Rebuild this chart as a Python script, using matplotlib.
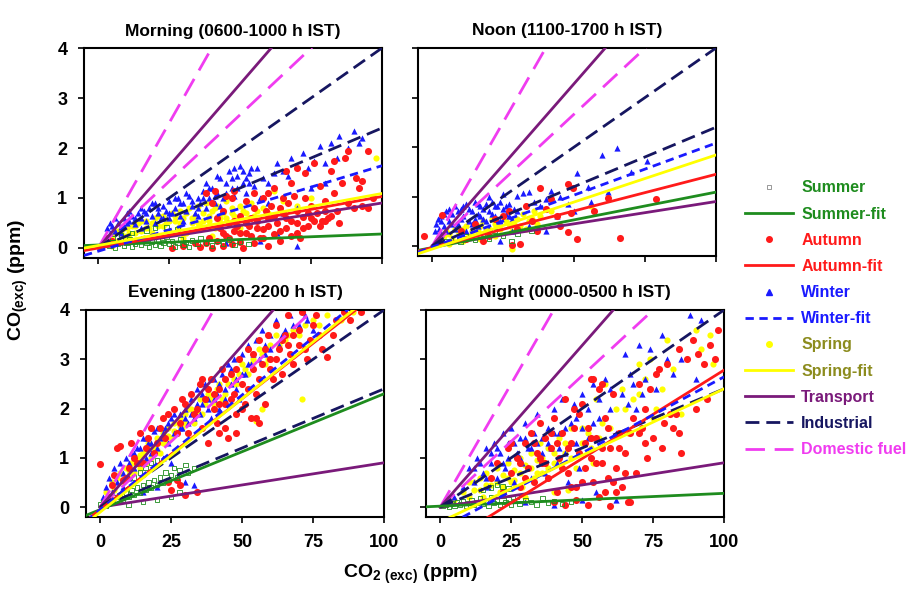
import numpy as np
import matplotlib.pyplot as plt
from matplotlib.lines import Line2D

plt.rcParams['font.family'] = ['Liberation Sans', 'DejaVu Sans']
plt.rcParams['font.weight'] = 'bold'
plt.rcParams['mathtext.fontset'] = 'custom'
plt.rcParams['mathtext.rm'] = 'Liberation Sans:bold'
plt.rcParams['mathtext.bf'] = 'Liberation Sans:bold'

titles = ['Morning (0600-1000 h IST)', 'Noon (1100-1700 h IST)',
          'Evening (1800-2200 h IST)', 'Night (0000-0500 h IST)']
x_ticks = [0, 25, 50, 75, 100]
y_ticks = [0, 1, 2, 3, 4]

# reference emission ratio lines (slopes, through origin)
transport_slopes = [0.0656, 0.009]
industrial_slopes = [0.04, 0.024]
domestic_slopes = [0.1, 0.0533]

# season fits per panel: (slope, intercept) for Summer, Autumn, Winter, Spring
morning_fits = [(0.0022, 0.06), (0.0103, 0.0), (0.0171, -0.064), (0.0104, 0.05)]
noon_fits = [(0.0112, -0.03), (0.0148, -0.03), (0.021, -0.02), (0.019, -0.06)]
evening_fits = [(0.0235, -0.05), (0.045, -0.05), (0.0465, -0.05), (0.046, -0.1)]
night_fits = [(0.0026, 0.02), (0.0359, -0.81), (0.0309, -0.447), (0.027, -0.3)]

# scatter points (CO2 exc, CO exc)
morning_summer = [(1, 0.02), (2, 0.06), (3, 0.1), (4, 0.04), (5, 0.12), (6, 0.0), (7, 0.08), (8, 0.15),
                  (9, 0.05), (10, 0.1), (11, 0.18), (12, 0.03), (13, 0.09), (14, 0.14), (15, 0.06),
                  (16, 0.2), (17, 0.1), (18, 0.02), (19, 0.13), (20, 0.07), (21, 0.17), (22, 0.04),
                  (23, 0.11), (24, 0.22), (25, 0.08), (26, 0.14), (27, 0.03), (28, 0.1), (29, 0.18),
                  (30, 0.06), (31, 0.12), (32, 0.02), (33, 0.15), (35, 0.08), (36, 0.2), (38, 0.1),
                  (40, 0.05), (42, 0.14), (44, 0.09), (46, 0.17), (48, 0.06), (50, 0.12), (53, 0.08),
                  (20, 0.4), (24, 0.42), (28, 0.38), (17, 0.35), (12, 0.3), (8, 0.25), (5, 0.2)]
morning_autumn = [(36, 0.02), (38, 0.1), (40, 0.0), (42, 0.15), (44, 0.05), (45, 0.25), (47, 0.08),
                  (48, 0.35), (50, 0.12), (51, 0.0), (52, 0.3), (53, 0.45), (55, 0.1), (56, 0.55),
                  (57, 0.2), (58, 0.38), (60, 0.05), (60, 0.6), (62, 0.28), (63, 0.5), (64, 0.15),
                  (65, 0.7), (66, 0.4), (67, 0.9), (68, 0.55), (70, 0.3), (70, 0.75), (72, 0.62),
                  (73, 1.0), (74, 0.45), (75, 0.85), (77, 0.7), (78, 1.25), (79, 0.55), (80, 0.95),
                  (81, 0.6), (83, 1.1), (84, 0.75), (85, 0.5), (86, 1.3), (88, 0.9), (90, 0.8),
                  (92, 1.2), (93, 0.85), (95, 0.8), (97, 1.0), (88, 1.95), (95, 1.95), (83, 1.75),
                  (76, 1.7), (82, 1.55), (73, 1.5), (68, 1.3), (62, 1.2), (58, 1.0), (55, 0.8),
                  (50, 0.65), (46, 0.5), (43, 0.4), (40, 0.9), (38, 1.1), (41, 1.15), (47, 1.0),
                  (52, 0.95), (61, 0.85), (69, 1.05), (71, 0.2), (75, 0.6), (80, 0.55), (64, 0.8),
                  (59, 0.75), (54, 0.6), (49, 0.45), (44, 0.3), (39, 0.2), (34, 0.1), (30, 0.05),
                  (26, 0.0), (60, 1.1), (66, 1.55), (70, 1.6), (87, 1.8), (91, 1.4), (93, 1.35),
                  (2, 0.12), (3, 0.2), (5, 0.15), (42, 0.6), (44, 0.75), (46, 0.2), (48, 0.55),
                  (50, 0.3), (52, 0.5), (54, 0.25), (56, 0.4), (58, 0.2), (60, 0.45), (62, 0.65),
                  (64, 0.35), (66, 0.6), (68, 0.25), (70, 0.5), (72, 0.4), (74, 0.7), (76, 0.55),
                  (78, 0.45), (80, 0.75), (82, 0.65), (45, 1.05), (48, 1.15), (55, 1.1), (65, 1.0)]
morning_winter = [(3, 0.4), (4, 0.3), (5, 0.45), (6, 0.35), (7, 0.5), (8, 0.42), (9, 0.6), (10, 0.5),
                  (11, 0.55), (12, 0.65), (13, 0.48), (14, 0.7), (15, 0.6), (16, 0.75), (17, 0.55),
                  (18, 0.8), (19, 0.65), (20, 0.9), (21, 0.7), (22, 0.6), (23, 0.85), (24, 0.75),
                  (25, 0.95), (26, 0.7), (27, 0.8), (28, 1.0), (29, 0.65), (30, 0.9), (31, 0.75),
                  (32, 1.05), (33, 0.85), (34, 0.7), (35, 1.0), (36, 0.9), (37, 1.15), (38, 0.8),
                  (39, 1.0), (40, 1.2), (41, 0.9), (42, 1.1), (43, 1.4), (44, 1.0), (45, 1.3),
                  (46, 1.55), (47, 1.2), (48, 1.05), (49, 1.45), (50, 1.65), (51, 1.3), (52, 1.1),
                  (53, 1.5), (55, 1.25), (56, 1.6), (57, 1.0), (58, 1.4), (60, 1.3), (62, 1.5),
                  (63, 1.7), (65, 1.55), (67, 1.45), (68, 1.8), (70, 1.65), (72, 1.9), (74, 1.6),
                  (76, 1.75), (78, 2.05), (80, 1.7), (82, 2.1), (84, 1.8), (85, 2.25), (88, 2.0),
                  (90, 2.35), (92, 2.1), (93, 2.2), (60, 0.9), (65, 0.7), (70, 0.8), (75, 1.2),
                  (80, 1.3), (57, 0.15), (70, 0.05), (63, 0.3), (45, 0.1), (15, 0.4), (20, 0.5),
                  (25, 0.6), (30, 0.55), (35, 0.65), (10, 0.7), (8, 0.3), (4, 0.5), (6, 0.6),
                  (9, 0.45), (11, 0.75), (13, 0.6), (15, 0.8), (17, 0.7), (19, 0.9), (21, 0.8),
                  (23, 0.6), (25, 0.7), (27, 1.0), (29, 0.9), (31, 1.1), (33, 0.95), (35, 0.8),
                  (37, 1.0), (39, 1.2), (41, 1.05), (43, 0.85), (45, 1.1), (47, 1.4), (49, 1.2),
                  (51, 1.55), (53, 1.3), (54, 1.6), (38, 1.3), (42, 1.45), (48, 1.6), (52, 1.4)]
morning_spring = [(2, 0.1), (4, 0.2), (5, 0.05), (6, 0.3), (7, 0.15), (8, 0.35), (9, 0.25), (10, 0.4),
                  (11, 0.2), (12, 0.45), (13, 0.3), (14, 0.5), (15, 0.35), (16, 0.2), (17, 0.55),
                  (18, 0.4), (19, 0.3), (20, 0.6), (21, 0.45), (22, 0.25), (23, 0.65), (24, 0.5),
                  (25, 0.35), (26, 0.7), (27, 0.55), (28, 0.4), (29, 0.75), (30, 0.6), (31, 0.3),
                  (32, 0.8), (33, 0.5), (34, 0.65), (35, 0.85), (36, 0.45), (37, 0.7), (38, 0.9),
                  (39, 0.55), (40, 0.75), (41, 0.4), (42, 0.85), (43, 0.6), (44, 0.7), (45, 0.95),
                  (46, 0.5), (47, 0.8), (48, 0.65), (50, 0.85), (52, 0.7), (54, 0.9), (56, 0.75),
                  (58, 0.8), (60, 0.7), (98, 1.8), (65, 0.95), (70, 0.85), (75, 1.0), (62, 1.15),
                  (30, 0.2), (40, 0.25), (50, 0.4), (5, 0.25), (7, 0.35), (9, 0.4), (11, 0.3),
                  (13, 0.45), (15, 0.55), (17, 0.4), (19, 0.5), (21, 0.65), (23, 0.45), (25, 0.55),
                  (27, 0.65), (29, 0.5), (31, 0.7), (33, 0.6), (35, 0.5), (37, 0.55), (39, 0.65),
                  (41, 0.8), (43, 0.5), (45, 0.6), (47, 0.7), (49, 0.55), (51, 0.75), (53, 0.6),
                  (55, 0.65)]

noon_summer = [(2, 0.05), (5, 0.1), (8, 0.15), (10, 0.08), (12, 0.2), (15, 0.12), (18, 0.25),
               (20, 0.15), (22, 0.3), (25, 0.2), (28, 0.1), (30, 0.25), (35, 0.3)]
noon_autumn = [(-3, 0.2), (49.6, 1.17), (48, 1.25), (62, 0.98), (79, 0.95), (57, 0.71), (49, 0.67),
               (48, 0.29), (51, 0.14), (66, 0.16), (3.5, 0.62), (38, 1.17), (28, 0.02), (10, 0.3),
               (15, 0.45), (20, 0.2), (25, 0.6), (30, 0.35), (35, 0.5), (40, 0.75), (45, 0.4),
               (22, 0.55), (18, 0.1), (33, 0.8), (42, 0.95), (12, 0.15), (27, 0.7), (37, 0.3),
               (44, 0.6), (31, 0.05)]
noon_winter = [(1, 0.3), (1.5, 0.45), (2, 0.55), (2.5, 0.35), (3, 0.6), (4, 0.4), (5, 0.7), (6, 0.5),
               (7, 0.65), (8, 0.8), (9, 0.45), (10, 0.75), (11, 0.6), (12, 0.85), (13, 0.5), (14, 0.7),
               (15, 0.9), (16, 0.65), (17, 0.8), (18, 0.55), (19, 0.85), (20, 0.7), (21, 0.9),
               (22, 0.6), (23, 0.8), (24, 0.5), (25, 0.75), (26, 0.65), (27, 0.85), (28, 0.55),
               (30, 0.7), (32, 1.07), (34, 1.1), (36, 0.9), (38, 0.8), (40, 0.95), (42, 1.11),
               (45, 1.0), (48, 0.85), (51, 1.47), (55, 1.2), (60, 1.83), (65, 1.98), (75.6, 1.71),
               (70, 1.5), (3, 0.25), (5, 0.3), (8, 0.35), (12, 0.3), (16, 0.4), (20, 0.35),
               (24, 0.1), (28, 0.3), (34, 0.4), (40, 0.3), (44, 0.6), (50, 0.7), (56, 0.9),
               (62, 1.1), (20, 1.0), (25, 1.05), (30, 1.02), (15, 0.55), (3, 0.5), (4, 0.65),
               (6, 0.75), (7, 0.45), (9, 0.7), (10, 0.55), (11, 0.8), (13, 0.75), (14, 0.45),
               (16, 0.85), (17, 0.6), (18, 0.75), (19, 0.5), (21, 0.65), (22, 0.8), (23, 0.55),
               (24, 0.9), (26, 0.8), (27, 0.6), (29, 0.75)]
noon_spring = [(2, 0.1), (4, 0.2), (5, 0.3), (7, 0.15), (8, 0.35), (10, 0.25), (12, 0.4), (13, 0.2),
               (15, 0.45), (16, 0.3), (18, 0.5), (20, 0.35), (21, 0.55), (23, 0.4), (25, 0.6),
               (27, 0.45), (28, 0.3), (30, 0.55), (32, 0.65), (34, 0.5), (36, 0.7), (38, 0.6),
               (40, 0.75), (42, 0.7), (56, 0.8), (28, -0.05), (6, 0.05), (11, 0.1), (17, 0.15),
               (22, 0.2), (33, 0.35), (3, 0.15), (6, 0.25), (9, 0.3), (11, 0.35), (14, 0.3),
               (17, 0.4), (19, 0.3), (22, 0.45), (24, 0.35), (26, 0.5), (29, 0.45), (31, 0.4),
               (35, 0.55), (37, 0.45)]

evening_summer = [(0, 0.05), (1, 0.1), (2, 0.02), (3, 0.15), (4, 0.08), (5, 0.2), (6, 0.12), (7, 0.25),
                  (8, 0.15), (9, 0.3), (10, 0.2), (11, 0.35), (12, 0.25), (13, 0.4), (14, 0.3),
                  (15, 0.45), (16, 0.35), (17, 0.5), (18, 0.4), (19, 0.55), (20, 0.45), (21, 0.6),
                  (22, 0.5), (23, 0.7), (24, 0.55), (25, 0.65), (26, 0.8), (27, 0.6), (28, 0.75),
                  (30, 0.85), (31, 0.7), (33, 0.8), (12, 0.6), (14, 0.7), (16, 0.8), (18, 0.9),
                  (20, 0.95), (10, 0.05), (15, 0.1), (20, 0.15), (25, 0.2), (28, 0.3)]
evening_autumn = [(0, 0.88), (5, 0.65), (6, 1.2), (7, 1.25), (11, 1.3), (4, 0.45), (8, 0.55), (3, 0.2),
                  (10, 0.8), (12, 1.0), (14, 1.5), (15, 0.9), (16, 1.2), (18, 1.6), (20, 1.3),
                  (22, 1.8), (23, 1.4), (24, 0.5), (25, 0.35), (27, 0.55), (28, 0.45), (26, 2.0),
                  (28, 1.7), (30, 2.1), (31, 1.5), (32, 2.3), (33, 1.9), (35, 2.5), (36, 1.6),
                  (37, 2.2), (38, 1.3), (39, 2.6), (40, 2.0), (41, 1.7), (42, 2.4), (43, 2.8),
                  (44, 2.1), (45, 1.4), (46, 2.7), (47, 2.3), (48, 1.9), (49, 3.0), (50, 2.5),
                  (51, 2.1), (52, 3.2), (53, 1.8), (54, 2.8), (55, 2.3), (56, 3.4), (57, 2.9),
                  (58, 2.1), (59, 3.5), (60, 3.0), (61, 2.6), (62, 3.7), (63, 3.2), (64, 2.7),
                  (65, 3.5), (66, 3.9), (67, 3.1), (68, 2.9), (70, 3.6), (71, 3.95), (72, 3.2),
                  (73, 3.0), (75, 3.7), (77, 3.5), (78, 3.2), (80, 3.05), (83, 3.8), (86, 3.95),
                  (92, 3.95), (34, 0.3), (30, 0.25), (9, 0.6), (13, 0.9), (17, 1.4), (19, 1.1),
                  (21, 1.6), (24, 1.9), (27, 1.5), (29, 2.2), (34, 2.0), (36, 2.6), (38, 2.4),
                  (40, 2.3), (42, 2.1), (44, 2.6), (46, 2.2), (48, 2.8), (50, 2.0), (52, 2.4),
                  (54, 3.1), (56, 2.6), (58, 3.2), (60, 2.8), (62, 3.0), (64, 3.4), (66, 3.3),
                  (68, 3.5), (70, 3.3), (74, 3.4), (76, 3.9), (82, 3.5), (88, 3.8), (42, 1.5),
                  (44, 1.6), (48, 1.5), (55, 1.8), (56, 1.7)]
evening_winter = [(1, 0.2), (2, 0.4), (3, 0.6), (4, 0.3), (5, 0.8), (6, 0.5), (7, 0.9), (8, 0.7),
                  (9, 1.0), (10, 0.6), (11, 1.1), (12, 0.8), (13, 1.2), (14, 0.9), (15, 1.4), (16, 1.0),
                  (17, 1.3), (18, 1.1), (19, 1.55), (20, 1.2), (21, 1.4), (22, 1.0), (23, 1.6),
                  (24, 1.3), (25, 1.8), (26, 1.5), (27, 1.2), (28, 1.9), (29, 1.6), (30, 2.0),
                  (31, 1.7), (32, 2.2), (33, 1.8), (34, 2.4), (35, 1.9), (36, 2.1), (37, 2.5),
                  (38, 2.2), (39, 1.8), (40, 2.6), (41, 2.3), (42, 2.0), (43, 2.7), (44, 2.4),
                  (45, 2.9), (46, 2.5), (47, 3.0), (48, 2.6), (49, 2.2), (50, 3.1), (51, 2.7),
                  (52, 3.3), (53, 2.9), (55, 3.4), (57, 3.6), (58, 3.1), (60, 3.5), (62, 3.8),
                  (63, 3.3), (65, 3.6), (67, 3.9), (70, 3.7), (72, 3.9), (75, 3.6), (27, 0.6),
                  (30, 0.5), (33, 0.45), (20, 0.4), (15, 0.3), (25, 0.9), (8, 0.4), (10, 0.9),
                  (12, 1.1), (14, 1.2), (16, 1.4), (18, 1.3), (20, 1.6), (22, 1.5), (24, 1.7),
                  (26, 1.9), (28, 1.6), (30, 1.8), (32, 1.9), (34, 2.1), (36, 2.3), (38, 2.0),
                  (40, 2.2), (42, 2.5), (44, 2.2), (46, 2.8), (48, 2.4), (50, 2.7), (52, 2.9),
                  (54, 3.1), (56, 3.0), (58, 3.3), (60, 3.2), (64, 3.5), (68, 3.7), (73, 3.8)]
evening_spring = [(1, 0.05), (2, 0.3), (3, 0.2), (4, 0.5), (5, 0.35), (6, 0.6), (8, 0.5), (9, 0.8),
                  (10, 0.65), (11, 0.9), (12, 0.7), (13, 1.0), (14, 0.8), (15, 1.1), (16, 0.9),
                  (17, 1.3), (18, 1.0), (19, 1.2), (20, 1.4), (21, 1.1), (22, 1.5), (23, 1.3),
                  (24, 1.6), (25, 1.4), (26, 1.7), (27, 1.5), (28, 1.8), (29, 1.6), (30, 1.9),
                  (32, 2.0), (33, 1.7), (35, 2.2), (36, 1.9), (38, 2.3), (40, 2.1), (42, 2.5),
                  (44, 2.3), (46, 2.7), (48, 2.5), (50, 2.9), (52, 2.7), (54, 3.0), (56, 3.2),
                  (58, 2.9), (60, 3.3), (62, 3.5), (65, 3.4), (68, 3.6), (71, 2.2), (55, 1.75),
                  (57, 2.0), (80, 3.9), (85, 3.8), (89, 3.95), (72, 3.7), (75, 3.8), (7, 0.7),
                  (10, 0.75), (12, 0.9), (14, 1.05), (16, 1.15), (18, 1.25), (20, 1.15), (22, 1.3),
                  (24, 1.45), (26, 1.55), (28, 1.65), (30, 1.7), (31, 2.0), (34, 1.9), (37, 2.1),
                  (39, 2.2), (41, 2.4), (43, 2.2), (45, 2.5), (47, 2.6), (49, 2.7), (51, 2.8),
                  (53, 2.9), (57, 3.1), (59, 3.0), (63, 3.3), (66, 3.5), (70, 3.5), (77, 3.7)]

night_summer = [(1, 0.02), (2, 0.05), (3, 0.0), (4, 0.08), (5, 0.03), (6, 0.1), (7, 0.05), (8, 0.12),
                (9, 0.02), (10, 0.08), (11, 0.15), (12, 0.04), (13, 0.1), (14, 0.18), (15, 0.06),
                (16, 0.12), (17, 0.03), (18, 0.2), (19, 0.08), (20, 0.14), (21, 0.05), (22, 0.22),
                (23, 0.1), (24, 0.16), (25, 0.04), (26, 0.12), (27, 0.2), (28, 0.07), (30, 0.15),
                (32, 0.1), (34, 0.05), (36, 0.18), (38, 0.08), (40, 0.12), (43, 0.06), (46, 0.1),
                (18, 0.4), (20, 0.45), (22, 0.42), (24, 0.38), (15, 0.35)]
night_autumn = [(18, 0.6), (20, 0.9), (22, 0.3), (24, 1.2), (25, 0.7), (27, 1.0), (28, 0.4), (30, 1.3),
                (31, 0.8), (32, 1.5), (33, 0.5), (34, 1.1), (35, 1.7), (36, 0.9), (37, 1.4), (38, 0.6),
                (39, 1.2), (40, 1.8), (41, 0.3), (42, 1.0), (43, 1.5), (44, 2.2), (45, 0.7), (46, 1.3),
                (47, 2.0), (48, 0.4), (49, 1.1), (50, 2.1), (51, 0.8), (52, 1.6), (53, 1.0), (54, 0.5),
                (55, 1.4), (56, 2.4), (57, 0.9), (58, 1.8), (59, 0.6), (60, 1.2), (61, 2.3), (62, 0.8),
                (63, 1.5), (64, 0.4), (65, 1.1), (66, 0.1), (67, 0.1), (68, 1.8), (69, 0.7), (70, 2.5),
                (71, 1.6), (72, 2.0), (73, 1.0), (74, 2.4), (75, 1.4), (76, 2.7), (77, 2.8), (78, 1.2),
                (80, 2.9), (82, 1.6), (83, 1.9), (84, 3.2), (85, 1.1), (87, 3.0), (89, 3.4), (90, 2.0),
                (91, 3.1), (93, 2.9), (94, 2.2), (95, 3.3), (97, 3.0), (98, 3.6), (48, 0.15),
                (52, 0.05), (56, 0.2), (60, 0.02), (44, 0.05), (40, 0.1), (53, 2.6), (54, 2.6),
                (57, 2.5), (25, 1.3), (28, 0.9), (30, 0.6), (33, 1.3), (35, 1.0), (37, 0.9),
                (39, 1.5), (41, 1.3), (43, 0.8), (45, 1.2), (47, 1.6), (49, 1.9), (51, 1.3),
                (53, 1.4), (55, 0.9), (57, 1.2), (59, 1.6), (61, 0.5), (63, 1.2), (65, 0.7),
                (67, 1.5), (70, 1.5), (72, 1.3), (79, 1.7), (81, 1.9), (84, 1.5), (58, 0.3),
                (62, 0.3), (46, 0.4), (50, 0.5)]
night_winter = [(5, 0.2), (8, 0.4), (10, 0.8), (12, 0.5), (13, 1.0), (15, 0.7), (16, 1.2), (17, 0.4),
                (18, 0.9), (19, 1.3), (20, 0.6), (21, 1.1), (22, 1.5), (23, 0.8), (24, 1.3), (25, 1.6),
                (26, 0.5), (27, 1.1), (28, 1.4), (29, 0.9), (30, 1.7), (31, 1.2), (32, 0.6), (33, 1.5),
                (34, 1.9), (35, 1.0), (36, 1.4), (37, 0.7), (38, 1.6), (39, 1.2), (40, 2.0), (41, 0.9),
                (42, 1.5), (43, 2.2), (44, 1.1), (45, 0.5), (46, 1.7), (47, 2.1), (48, 1.3), (49, 0.8),
                (50, 2.3), (52, 1.4), (54, 2.5), (56, 1.8), (58, 2.6), (60, 2.0), (62, 1.5), (64, 2.3),
                (65, 3.1), (67, 2.7), (69, 2.0), (70, 3.3), (72, 2.6), (74, 3.2), (76, 2.4), (78, 3.5),
                (80, 3.0), (82, 2.7), (85, 3.0), (88, 3.9), (90, 2.6), (92, 3.8), (30, 0.1), (40, 0.05),
                (50, 0.15), (62, 0.15), (55, 0.3), (12, 0.8), (14, 0.9), (16, 0.6), (18, 1.1),
                (20, 1.2), (22, 0.9), (24, 1.0), (26, 1.3), (28, 1.0), (30, 1.4), (32, 1.2),
                (34, 1.3), (36, 1.1), (38, 1.3), (40, 1.5), (42, 1.2), (44, 1.6), (46, 1.3),
                (48, 1.8), (50, 1.6), (52, 2.0), (54, 1.7), (56, 2.2), (60, 2.4), (66, 2.1),
                (68, 2.5), (71, 2.3)]
night_spring = [(5, 0.15), (8, 0.3), (10, 0.5), (12, 0.35), (14, 0.6), (15, 0.2), (16, 0.7), (18, 0.45),
                (20, 0.8), (21, 0.3), (22, 0.65), (24, 0.9), (25, 0.5), (26, 0.75), (28, 1.0), (29, 0.4),
                (30, 0.85), (32, 1.1), (33, 0.6), (34, 0.95), (35, 1.3), (36, 0.7), (38, 1.2), (40, 0.9),
                (42, 1.4), (44, 1.1), (46, 1.6), (48, 0.8), (50, 1.3), (52, 1.5), (54, 0.9), (55, 2.2),
                (57, 1.7), (58, 2.5), (60, 1.2), (62, 2.0), (64, 2.4), (66, 1.5), (68, 2.2), (70, 2.9),
                (72, 2.6), (74, 3.0), (75, 1.8), (76, 2.0), (78, 2.4), (80, 3.4), (82, 2.8), (85, 1.9),
                (87, 3.0), (90, 3.6), (92, 3.2), (95, 3.5), (96, 2.9), (30, 0.2), (40, 0.3), (45, 0.35),
                (10, 0.2), (12, 0.5), (14, 0.35), (16, 0.45), (18, 0.6), (20, 0.5), (22, 0.4),
                (24, 0.6), (26, 0.55), (28, 0.7), (30, 0.6), (32, 0.8), (34, 0.7), (36, 1.0),
                (38, 0.8), (40, 1.1), (42, 0.9), (44, 1.3), (46, 1.0), (50, 1.6), (53, 1.2),
                (56, 1.4), (60, 1.6), (65, 2.0), (70, 2.3)]

GREEN = '#1e8c1e'
RED = '#ff1a1a'
BLUE = '#1a1aff'
YELLOW = '#ffff00'
OLIVE = '#8c8c1e'
PURPLE = '#7a1a7a'
NAVY = '#161660'
MAGENTA = '#f03cf0'

WINTER_DASH = (0, (3, 2))
INDUSTRIAL_DASH = (0, (5, 2.5))
DOMESTIC_DASH = (0, (7, 3.5))


def draw_panel(ax, points, fits, title, show_x, show_y):
    """
    Draws one time-of-day panel with season scatter, fits and reference ratios
    :param ax: Axes to draw on
    :param points: List of four point lists (summer, autumn, winter, spring)
    :param fits: List of four (slope, intercept) pairs
    :param title: Panel title
    :param show_x: Whether to label the x ticks
    :param show_y: Whether to label the y ticks
    """
    summer, autumn, winter, spring = [np.array(p) for p in points]
    ax.scatter(spring[:, 0], spring[:, 1], s=20, color=YELLOW, marker='o', linewidths=0, zorder=2)
    ax.scatter(winter[:, 0], winter[:, 1], s=20, color=BLUE, marker='^', linewidths=0, zorder=2)
    ax.scatter(autumn[:, 0], autumn[:, 1], s=26, color=RED, marker='o', linewidths=0, zorder=2)
    ax.scatter(summer[:, 0], summer[:, 1], s=10, facecolors='none', edgecolors=GREEN,
               marker='s', linewidths=0.6, zorder=2)

    xf = np.array([-5, 100])
    xr = np.array([0, 100])
    for s in domestic_slopes:
        ax.plot(xr, s * xr, color=MAGENTA, lw=2, linestyle=DOMESTIC_DASH, zorder=3)
    for s in transport_slopes:
        ax.plot(xr, s * xr, color=PURPLE, lw=2, zorder=3)
    for s in industrial_slopes:
        ax.plot(xr, s * xr, color=NAVY, lw=2, linestyle=INDUSTRIAL_DASH, zorder=3)

    styles = [(GREEN, '-'), (RED, '-'), (BLUE, WINTER_DASH), (YELLOW, '-')]
    for (slope, icpt), (c, ls) in zip(fits, styles):
        ax.plot(xf, slope * xf + icpt, color=c, lw=2, linestyle=ls, zorder=4)

    ax.set_xlim(-5, 100)
    ax.set_ylim(-0.2, 4)
    ax.set_xticks(x_ticks)
    ax.set_yticks(y_ticks)
    ax.tick_params(direction='out', length=4, width=1.2, labelsize=13, pad=8)
    if not show_x:
        ax.set_xticklabels([])
    if not show_y:
        ax.set_yticklabels([])
    for sp in ax.spines.values():
        sp.set_linewidth(1.5)
    ax.set_title(title, fontsize=12.5, fontweight='bold', pad=9)


def main():
    fig = plt.figure(figsize=(9.17, 5.89), dpi=100)
    w, h = 917, 589
    boxes = [(84, 48, 298, 210), (418, 48, 298, 208), (86, 310, 298, 207), (426, 310, 298, 207)]
    panel_points = [
        [morning_summer, morning_autumn, morning_winter, morning_spring],
        [noon_summer, noon_autumn, noon_winter, noon_spring],
        [evening_summer, evening_autumn, evening_winter, evening_spring],
        [night_summer, night_autumn, night_winter, night_spring],
    ]
    panel_fits = [morning_fits, noon_fits, evening_fits, night_fits]
    for i, (l, t, bw, bh) in enumerate(boxes):
        ax = fig.add_axes([l / w, (h - t - bh) / h, bw / w, bh / h])
        draw_panel(ax, panel_points[i], panel_fits[i], titles[i], i >= 2, i % 2 == 0)

    fig.text(18 / w, (h - 280) / h, r'CO$_{\mathregular{(exc)}}$ (ppm)', rotation=90,
             ha='center', va='center', fontsize=14, fontweight='bold')
    fig.text(410 / w, (h - 574) / h, r'CO$_{\mathregular{2\ (exc)}}$ (ppm)',
             ha='center', va='center', fontsize=14, fontweight='bold')

    handles = [
        Line2D([], [], linestyle='none', marker='s', markersize=3, markerfacecolor='none',
               markeredgecolor='#888888', markeredgewidth=0.6),
        Line2D([], [], color=GREEN, lw=2),
        Line2D([], [], linestyle='none', marker='o', markersize=4, color=RED),
        Line2D([], [], color=RED, lw=2),
        Line2D([], [], linestyle='none', marker='^', markersize=4, color=BLUE),
        Line2D([], [], color=BLUE, lw=2, linestyle=WINTER_DASH),
        Line2D([], [], linestyle='none', marker='o', markersize=4, color=YELLOW),
        Line2D([], [], color=YELLOW, lw=2),
        Line2D([], [], color=PURPLE, lw=2),
        Line2D([], [], color=NAVY, lw=2, linestyle=INDUSTRIAL_DASH),
        Line2D([], [], color=MAGENTA, lw=2, linestyle=DOMESTIC_DASH),
    ]
    labels = ['Summer', 'Summer-fit', 'Autumn', 'Autumn-fit', 'Winter', 'Winter-fit',
              'Spring', 'Spring-fit', 'Transport', 'Industrial', 'Domestic fuel']
    text_colors = [GREEN, GREEN, RED, RED, BLUE, BLUE, OLIVE, OLIVE, PURPLE, NAVY, MAGENTA]
    leg = fig.legend(handles, labels, loc='upper left', bbox_to_anchor=(731 / w, (h - 166) / h),
                     frameon=False, prop={'size': 11.5, 'weight': 'bold'},
                     handlelength=3.0, handletextpad=0.5, labelspacing=0.7)
    for txt, c in zip(leg.get_texts(), text_colors):
        txt.set_color(c)

    fig.savefig('out.png', dpi=100)


if __name__ == '__main__':
    main()
